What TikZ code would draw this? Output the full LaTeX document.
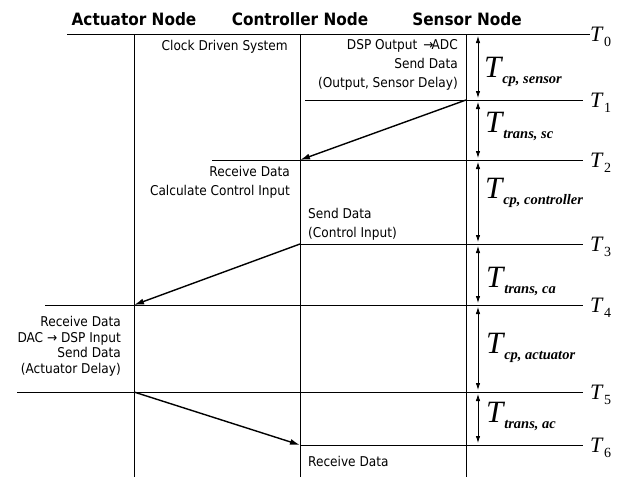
\documentclass[tikz,border=0pt]{standalone}
\usepackage{fontspec}
\setmainfont{Liberation Serif}
\newfontfamily\notefont{DejaVu Sans Condensed}
\usetikzlibrary{arrows.meta}

% time marks and durations
\newcommand{\tmark}[1]{\textit{T}\kern0.5pt\raisebox{-5pt}{\fontsize{14}{14}\selectfont #1}}
\newcommand{\tspan}[1]{\textit{T}\kern-1pt\raisebox{-6pt}{\fontsize{14.5}{14.5}\selectfont\bfseries\itshape #1}}

\begin{document}
\begin{tikzpicture}[x=1pt,y=-1pt,
  every node/.style={inner sep=0pt},
  head/.style={font=\notefont\bfseries\fontsize{17}{20}\selectfont},
  note/.style={font=\notefont\fontsize{13.5}{19}\selectfont},
  tick/.style={line width=0.6pt},
  life/.style={line width=0.8pt},
  msg/.style={line width=1.4pt,-{Latex[length=10pt,width=6pt]}},
  dur/.style={line width=0.8pt,{Latex[length=7pt,width=4.5pt]}-{Latex[length=7pt,width=4.5pt]}},
  tname/.style={font=\fontsize{22}{22}\selectfont, anchor=base west},
  dname/.style={font=\fontsize{31}{31}\selectfont, anchor=base west}]
\useasboundingbox (0,0) rectangle (622,477);

% Node titles
\node[head] (act) at (134,19) {Actuator Node};
\node[head] (ctl) at (300,19) {Controller Node};
\node[head] (sen) at (467,19) {Sensor Node};

% Life lines
\draw[life] (134,34) coordinate (atop) -- (134,477) coordinate (abot);
\draw[life] (300,34) coordinate (ctop) -- (300,477) coordinate (cbot);
\draw[life] (466,34) coordinate (stop) -- (466,477) coordinate (sbot);

% Time instants
\foreach \n/\y/\xa/\xb in {0/34/67/590, 1/100/305/583, 2/160/212/583, 3/244/300/583,
                           4/305/45/583, 5/392/17/583, 6/445/300/583} {
  \draw[tick] (\xa,\y) -- (\xb,\y);
  \coordinate (d\n) at (478,\y);
  \node[tname] (t\n) at (590,\y+7) {\tmark{\n}};
}

% Durations
\foreach \a/\b in {0/1, 1/2, 2/3, 3/4, 4/5, 5/6}
  \draw[dur] ([yshift=-2pt]d\a) -- ([yshift=2pt]d\b);

\node[dname] (tcps) at (484,77)  {\tspan{cp, sensor}};
\node[dname] (ttsc) at (485,132) {\tspan{trans, sc}};
\node[dname] (tcpc) at (485,198) {\tspan{cp, controller}};
\node[dname] (ttca) at (486,287) {\tspan{trans, ca}};
\node[dname] (tcpa) at (486,353) {\tspan{cp, actuator}};
\node[dname] (ttac) at (486,422) {\tspan{trans, ac}};

% Messages
\coordinate (s1) at (466,100);
\coordinate (c2) at (300,160);
\coordinate (c3) at (300,244);
\coordinate (a4) at (134,305);
\coordinate (a5) at (134,392);
\coordinate (c6) at (300,445);
\draw[msg] (s1) -- (c2);
\draw[msg] (c3) -- (a4);
\draw[msg] (a5) -- (c6);

% Actions
\node[note, anchor=east] (clock) at (288,47) {Clock Driven System};
\node[note, anchor=north east, align=right] (sout) at (458,39)
  {DSP Output \,→\kern-2ptADC\\Send Data\\(Output, Sensor Delay)};
\node[note, anchor=north east, align=right] (crecv) at (290,166)
  {Receive Data\\Calculate Control Input};
\node[note, anchor=north west, align=left] (csend) at (308,208)
  {Send Data\\(Control Input)};
\node[note, anchor=north east, align=right, font=\notefont\fontsize{13.5}{15.7}\selectfont] (arecv) at (121,316)
  {Receive Data\\DAC → DSP Input\\Send Data\\(Actuator Delay)};
\node[note, anchor=west] (cend) at (308,461) {Receive Data};
\end{tikzpicture}
\end{document}
